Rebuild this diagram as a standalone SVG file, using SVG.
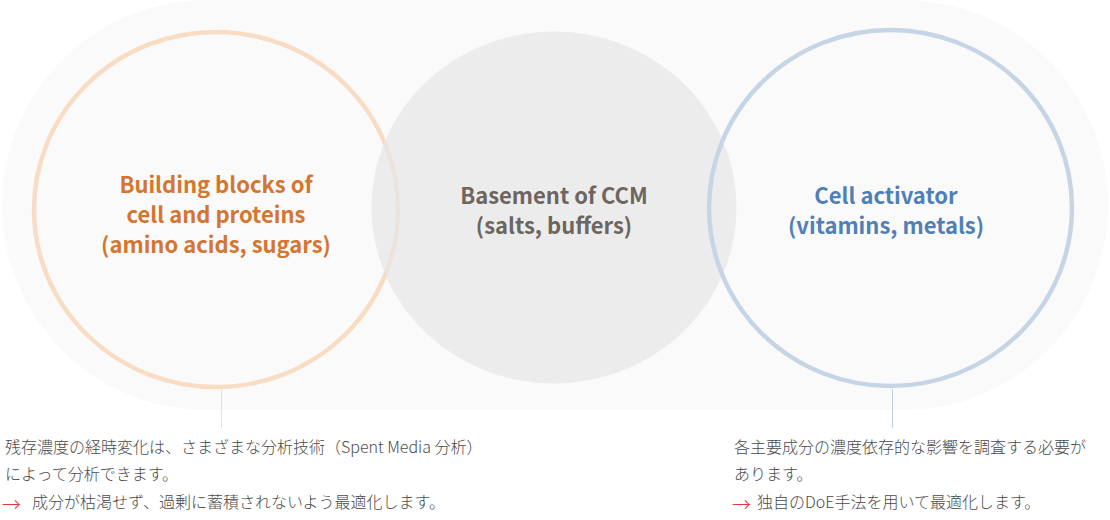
<svg xmlns="http://www.w3.org/2000/svg" width="1110" height="520" viewBox="0 0 1110 520">
<style>
.title{font-family:"Noto Sans CJK JP","Noto Sans",sans-serif;font-weight:700;font-size:22px;text-anchor:middle}
.body{font-family:"Noto Sans CJK JP","Noto Sans",sans-serif;font-weight:300;font-size:16px;fill:#4a4a4a}
.arrow{font-family:"Noto Sans CJK JP","DejaVu Sans",sans-serif;font-weight:300;font-size:19px;fill:#e8343c}
</style>
<rect x="0" y="0" width="1110" height="520" fill="#ffffff"/>
<rect id="background" x="2" y="0" width="1106" height="410" rx="205" ry="205" fill="#fafafa"/>
<g id="node-building-blocks">
<ellipse cx="216" cy="209.5" rx="182" ry="177.5" fill="none" stroke="#f9dcc4" stroke-width="4.5"/>
</g>
<g id="node-basement">
<ellipse cx="554" cy="207.5" rx="182.5" ry="176" fill="#e6e6e6" fill-opacity="0.72"/>
</g>
<g id="node-activator">
<ellipse cx="890.5" cy="208" rx="181.5" ry="178" fill="none" stroke="#c5d5e6" stroke-width="4.5"/>
</g>
<g id="labels">
<text class="title" fill="#d4762f" x="216" y="193">Building blocks of</text>
<text class="title" fill="#d4762f" x="216" y="223">cell and proteins</text>
<text class="title" fill="#d4762f" x="216" y="253">(amino acids, sugars)</text>
<text class="title" fill="#6d6560" x="554" y="204">Basement of CCM</text>
<text class="title" fill="#6d6560" x="554" y="234">(salts, buffers)</text>
<text class="title" fill="#4f7fb7" x="886" y="204">Cell activator</text>
<text class="title" fill="#4f7fb7" x="886" y="234">(vitamins, metals)</text>
</g>
<g id="connectors">
<line x1="221.5" y1="389" x2="221.5" y2="428" stroke="#f2dcc8" stroke-width="1"/>
<line x1="892.5" y1="389" x2="892.5" y2="428" stroke="#bcd0e4" stroke-width="1"/>
</g>
<g id="note-left">
<text class="body" x="5" y="453">残存濃度の経時変化は、さまざまな分析技術（Spent Media 分析）</text>
<text class="body" x="5" y="480">によって分析できます。</text>
<text class="arrow" x="2" y="512">→</text>
<text class="body" x="32" y="508">成分が枯渇せず、過剰に蓄積されないよう最適化します。</text>
</g>
<g id="note-right">
<text class="body" x="734" y="453">各主要成分の濃度依存的な影響を調査する必要が</text>
<text class="body" x="734" y="480">あります。</text>
<text class="arrow" x="732" y="512">→</text>
<text class="body" x="757" y="508">独自のDoE手法を用いて最適化します。</text>
</g>
</svg>
